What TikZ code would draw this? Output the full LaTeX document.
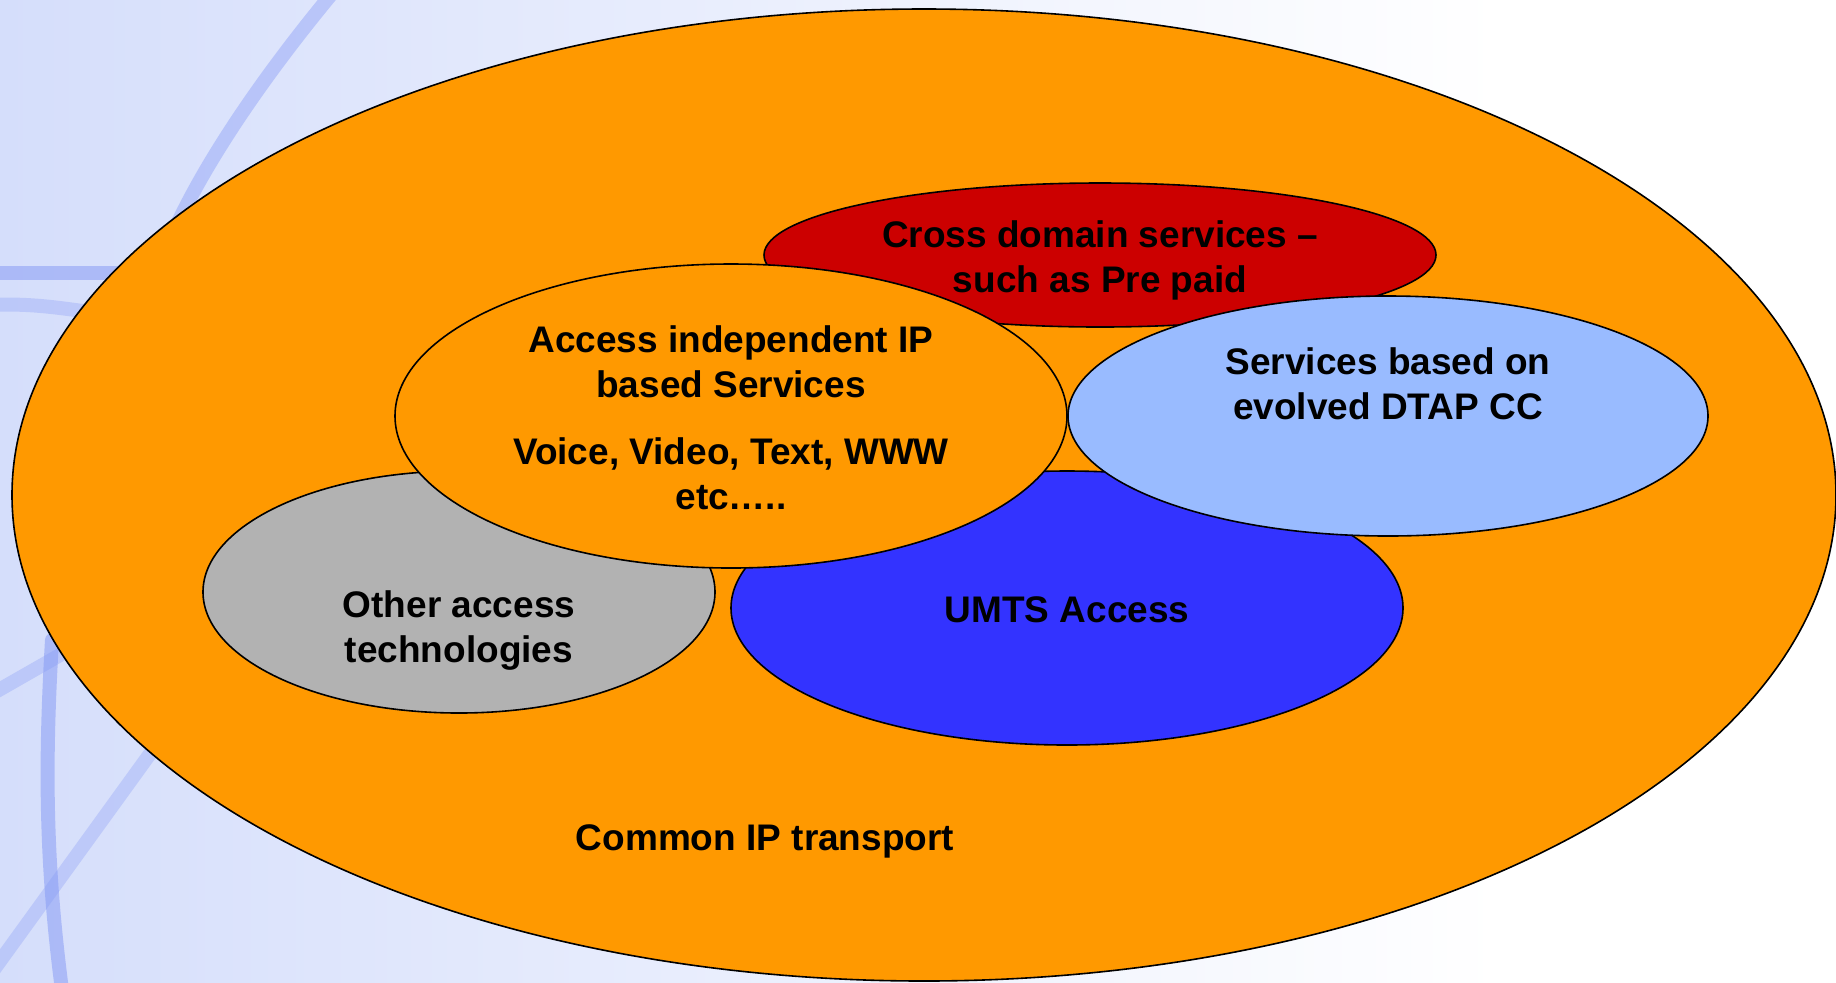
\documentclass[tikz,border=0pt]{standalone}
\usepackage{fontspec}
\setmainfont{Liberation Sans}
\usetikzlibrary{shapes.geometric}
\definecolor{bgblue}{RGB}{213,222,251}
\definecolor{bandblue}{RGB}{130,150,245}
\definecolor{orng}{RGB}{255,153,0}
\definecolor{crimson}{RGB}{204,0,0}
\definecolor{skyb}{RGB}{153,187,255}
\definecolor{umtsblue}{RGB}{51,51,255}
\definecolor{grayx}{RGB}{178,178,178}
\begin{document}
\begin{tikzpicture}[x=0.5pt,y=-0.5pt,
  blob/.style={ellipse, draw=black, line width=0.8pt, inner sep=0pt, outer sep=0pt},
  lbl/.style={font=\fontsize{18.5}{22.5}\selectfont\bfseries, align=center, inner sep=0pt},
  band/.style={draw=bandblue, line width=7pt, opacity=0.5, line cap=round}]
\useasboundingbox (0,0) rectangle (1836,982);
\fill[white] (0,0) rectangle (1836,982);
\shade[left color=bgblue, right color=white] (0,0) rectangle (1500,982);
% background bands
\draw[band, opacity=0.4] (335,-10) .. controls (260,80) and (200,170) .. (170,240);
\draw[band] (-10,273) -- (130,273);
\draw[band, opacity=0.3] (-10,305) .. controls (30,303) and (60,308) .. (90,312);
\draw[band] (52,640) .. controls (45,760) and (45,860) .. (62,990);
\draw[band, opacity=0.3] (-10,695) -- (60,655);
\draw[band, opacity=0.3] (160,740) -- (-10,975);
% ellipses
\node[blob, fill=orng, minimum width=912pt, minimum height=486pt] (outer) at (924,495) {};
\node[blob, fill=crimson, minimum width=336pt, minimum height=72pt] (cross) at (1100,255) {};
\node[blob, fill=grayx, minimum width=256pt, minimum height=121pt] (other) at (459,592) {};
\node[blob, fill=umtsblue, minimum width=336pt, minimum height=137pt] (umts) at (1067,608) {};
\node[blob, fill=orng, minimum width=336pt, minimum height=152pt] (aip) at (731,416) {};
\node[blob, fill=skyb, minimum width=320pt, minimum height=120pt] (dtap) at (1388,416) {};
% labels
\node[lbl] (tcross) at (1100,260) {Cross domain services –\\such as Pre paid};
\node[lbl] (taip1) at (731,362) {Access independent IP\\based Services};
\node[lbl] (taip2) at (731,474) {Voice, Video, Text, WWW\\etc…..};
\node[lbl] (tdtap) at (1388,384) {Services based on\\evolved DTAP CC};
\node[lbl] (tumts) at (1067,610) {UMTS Access};
\node[lbl] (tother) at (459,630) {Other access\\technologies};
\node[lbl] (tcommon) at (765,841) {Common IP transport};
\end{tikzpicture}
\end{document}
